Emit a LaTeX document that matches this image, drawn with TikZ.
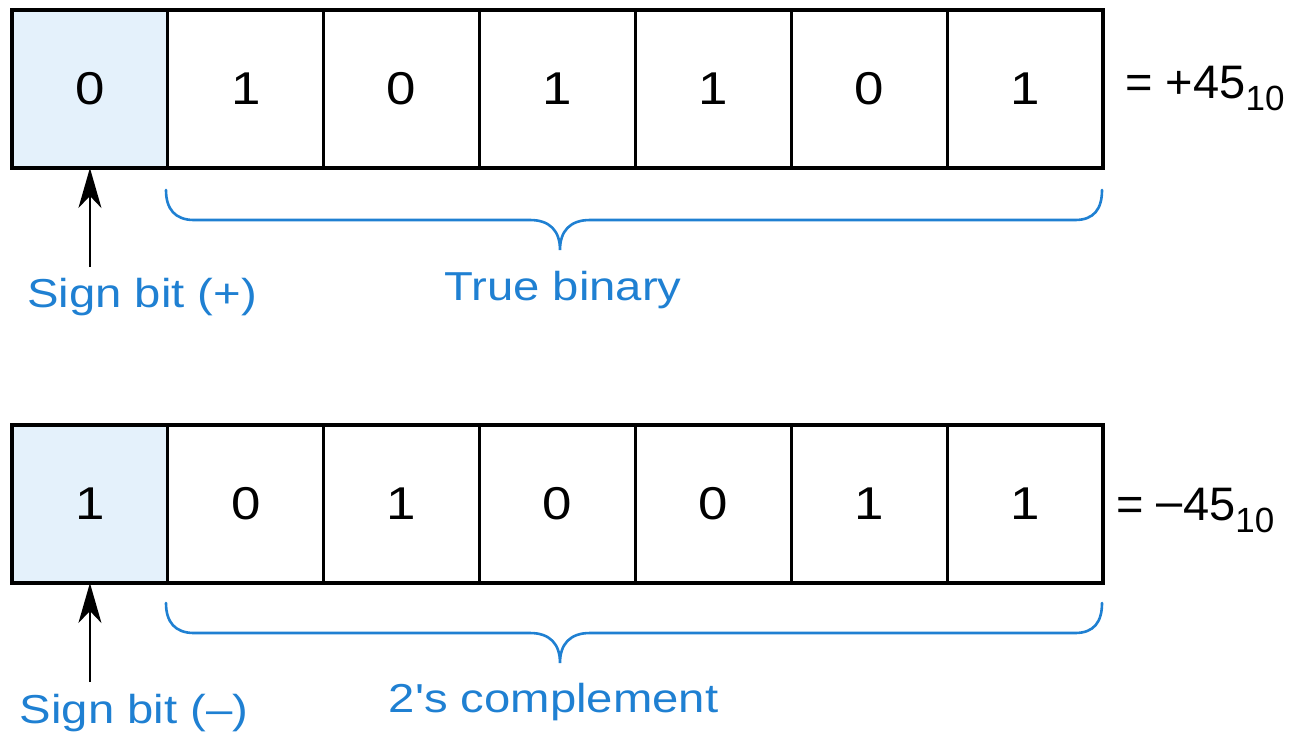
\documentclass[tikz,border=0pt]{standalone}
\usepackage{fontspec}
\setmainfont{Liberation Sans}
\newfontfamily\labfont{Liberation Sans}[FakeStretch=1.17,Ligatures=TeXOff]
\newfontfamily\digfont{Liberation Sans}[FakeStretch=1.15]
\newfontfamily\eqfont{Liberation Sans}
\usetikzlibrary{arrows.meta}
\definecolor{sigblue}{HTML}{1F80D2}
\definecolor{signfill}{HTML}{E4F1FB}
\begin{document}
\begin{tikzpicture}[x=0.5pt,y=-0.5pt,
  cell/.style={draw=black, line width=1.5pt, minimum width=77.93pt, minimum height=79pt,
    inner sep=0pt, outer sep=0pt, font=\digfont\fontsize{23}{23}\selectfont, anchor=center},
  signcell/.style={cell, fill=signfill},
  lab/.style={text=sigblue, font=\labfont\fontsize{20.2}{20.2}\selectfont, inner sep=0pt, anchor=base},
  eqn/.style={font=\eqfont\fontsize{23.5}{23.5}\selectfont, inner sep=0pt, anchor=base west},
  brc/.style={draw=sigblue, line width=1.3pt, line cap=round},
  sarrow/.style={draw=black, line width=1pt, -{Stealth[length=20pt,width=11.5pt,inset=6pt]}},
  outerbox/.style={draw=black, line width=2pt}]

\useasboundingbox (0,0) rectangle (1295,741);

% ---- top row: +45
\node[signcell] (a0) at (89.93,89) {0};
\foreach \i/\b in {1/1,2/0,3/1,4/1,5/0,6/1}
  \node[cell] (a\i) at ({89.93+155.857*\i},89) {\b};
\draw[outerbox] (a0.north west) rectangle (a6.south east);
\node[eqn] (e1) at (1125,98) {= +45\raisebox{-6pt}{\fontsize{17.5}{17.5}\selectfont 10}};

\node[lab] (s1) at (142,307) {Sign bit (+)};
\node[lab] (t1) at (563,300) {True binary};
\coordinate (s1top) at ([yshift=20pt]s1.base);
\draw[sarrow] (s1top -| a0.south) -- (a0.south);

\draw[brc] (166,190) .. controls (166,209) and (175,220) .. (194,220) -- (530,220)
  .. controls (550,220) and (560,231) .. (560,250)
  .. controls (560,231) and (570,220) .. (590,220) -- (1075,220)
  .. controls (1094,220) and (1102,209) .. (1102,190);

% ---- bottom row: -45
\node[signcell] (b0) at (89.93,504) {1};
\foreach \i/\b in {1/0,2/1,3/0,4/0,5/1,6/1}
  \node[cell] (b\i) at ({89.93+155.857*\i},504) {\b};
\draw[outerbox] (b0.north west) rectangle (b6.south east);
\node[eqn] (e2) at (1116,520) {= \raisebox{1.2pt}{–}45\raisebox{-6pt}{\fontsize{17.5}{17.5}\selectfont 10}};

\node[lab] (s2) at (134,723) {Sign bit (–)};
\node[lab] (t2) at (553.5,712) {2's complement};
\coordinate (s2top) at ([yshift=20.5pt]s2.base);
\draw[sarrow] (s2top -| b0.south) -- (b0.south);

\draw[brc] (166,603) .. controls (166,622) and (175,633) .. (194,633) -- (530,633)
  .. controls (550,633) and (560,644) .. (560,663)
  .. controls (560,644) and (570,633) .. (590,633) -- (1075,633)
  .. controls (1094,633) and (1102,622) .. (1102,603);
\end{tikzpicture}
\end{document}
